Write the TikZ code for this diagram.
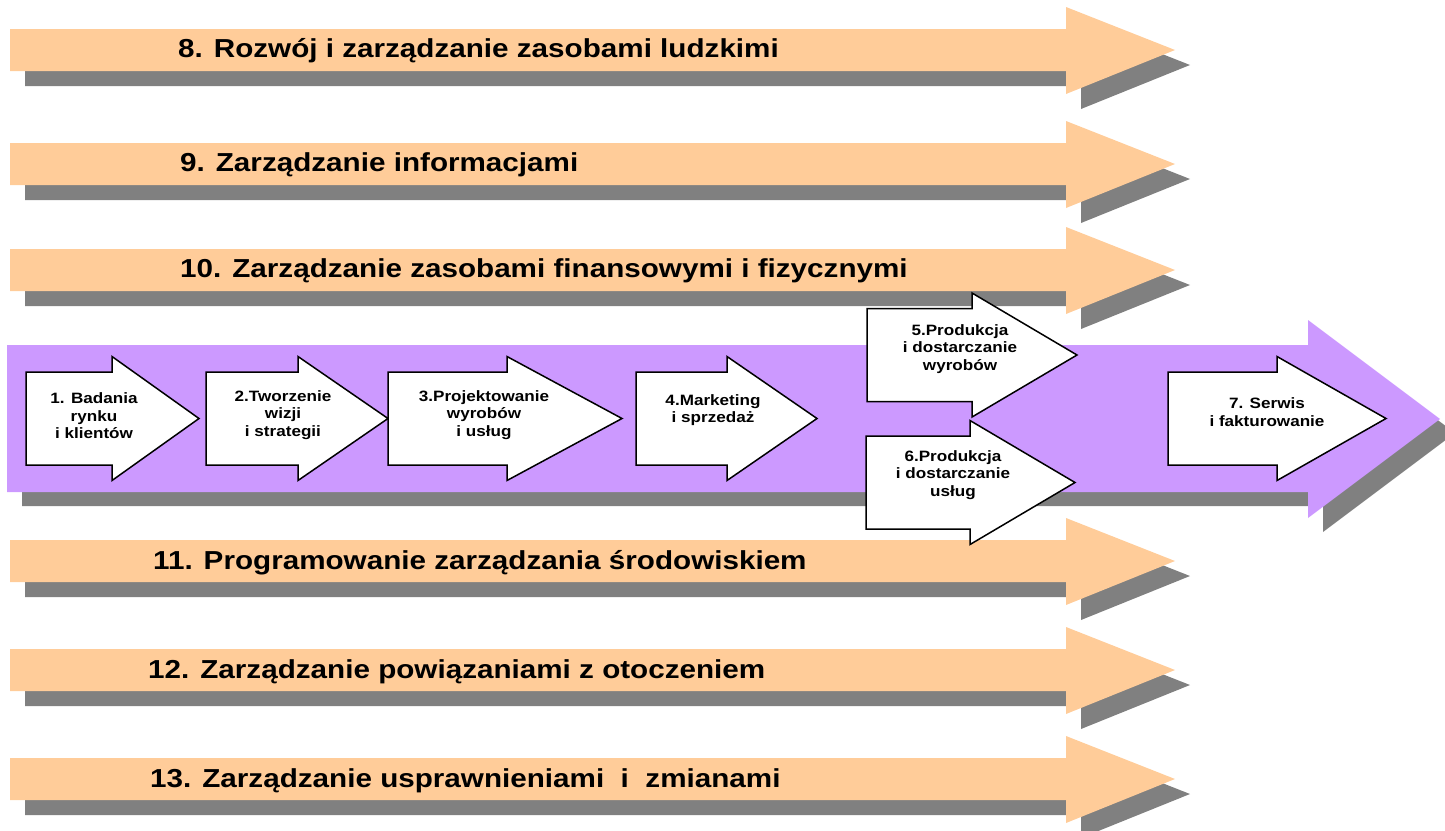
\documentclass[tikz,border=0pt]{standalone}
\usepackage{fontspec}
\setmainfont{Liberation Sans}
\newfontfamily\widesans{Liberation Sans}[FakeStretch=1.14]
\definecolor{peach}{HTML}{FFCC99}
\definecolor{lilac}{HTML}{CC99FF}
\definecolor{shade}{HTML}{808080}

\tikzset{
  bandfill/.style={fill=peach},
  shadowfill/.style={fill=shade},
  chainfill/.style={fill=lilac},
  stepshape/.style={draw=black, fill=white, line width=1.5pt, line join=miter},
  bandlabel/.style={anchor=base west, inner sep=0pt,
    font=\widesans\bfseries\fontsize{26}{30}\selectfont},
  steplabel/.style={align=center, inner sep=0pt,
    font=\widesans\bfseries\fontsize{15}{17.5}\selectfont},
}

% horizontal support-process arrow centred on y = #1
\newcommand\bandarrow[1]{%
  \begin{scope}[shift={(0,#1)}]
    \fill[shadowfill, shift={(15,15)}] (10,-21) -- (1066,-21) -- (1066,-43) -- (1175,0)
      -- (1066,44) -- (1066,21) -- (10,21) -- cycle;
    \fill[bandfill] (10,-21) -- (1066,-21) -- (1066,-43) -- (1175,0)
      -- (1066,44) -- (1066,21) -- (10,21) -- cycle;
  \end{scope}}

% white step arrow: #1 left edge, #2 start of head, #3 tip, #4 centre y
\newcommand\steparrow[4]{%
  \draw[stepshape, shift={(0,#4)}] (#1,-46.5) -- (#2,-46.5) -- (#2,-62) -- (#3,0)
    -- (#2,62) -- (#2,46.5) -- (#1,46.5) -- cycle;}

\begin{document}
\begin{tikzpicture}[x=1pt, y=-1pt]
  \useasboundingbox (0,0) rectangle (1445,830);

  % support processes above the chain
  \bandarrow{50}
  \bandarrow{164}
  \bandarrow{270}
  \node[bandlabel] (p8)  at (178,57)  {8. Rozwój i zarządzanie zasobami ludzkimi};
  \node[bandlabel] (p9)  at (180,171) {9. Zarządzanie informacjami};
  \node[bandlabel] (p10) at (180,277) {10. Zarządzanie zasobami finansowymi i fizycznymi};

  % support processes below the chain
  \bandarrow{561}
  \bandarrow{670}
  \bandarrow{779}
  \node[bandlabel] (p11) at (153,569) {11. Programowanie zarządzania środowiskiem};
  \node[bandlabel] (p12) at (148,678) {12. Zarządzanie powiązaniami z otoczeniem};
  \node[bandlabel] (p13) at (150,787) {13. Zarządzanie usprawnieniami\ \ i\ \ zmianami};

  % main value chain
  \fill[shadowfill, shift={(15,14)}] (7,345) -- (1308,345) -- (1308,320) -- (1440,419)
    -- (1308,518) -- (1308,492) -- (7,492) -- cycle;
  \fill[chainfill] (7,345) -- (1308,345) -- (1308,320) -- (1440,419)
    -- (1308,518) -- (1308,492) -- (7,492) -- cycle;

  % operating steps
  \steparrow{26}{112}{199}{418.5}
  \steparrow{206}{298}{388}{418.5}
  \steparrow{388}{507}{622}{418.5}
  \steparrow{636}{727}{817}{418.5}
  \steparrow{867}{972}{1077}{355}
  \steparrow{866}{970}{1075}{482.5}
  \steparrow{1168}{1277}{1386}{418.5}

  \node[steplabel] (s1) at (94,416)   {1. Badania\\rynku\\i klientów};
  \node[steplabel] (s2) at (283,415)  {2.Tworzenie\\wizji\\i strategii};
  \node[steplabel] (s3) at (484,415)  {3.Projektowanie\\wyrobów\\i usług};
  \node[steplabel] (s4) at (713,410)  {4.Marketing\\i sprzedaż};
  \node[steplabel] (s5) at (960,349)  {5.Produkcja\\i dostarczanie\\wyrobów};
  \node[steplabel] (s6) at (953,475)  {6.Produkcja\\i dostarczanie\\usług};
  \node[steplabel] (s7) at (1267,412) {7. Serwis\\i fakturowanie};
\end{tikzpicture}
\end{document}
